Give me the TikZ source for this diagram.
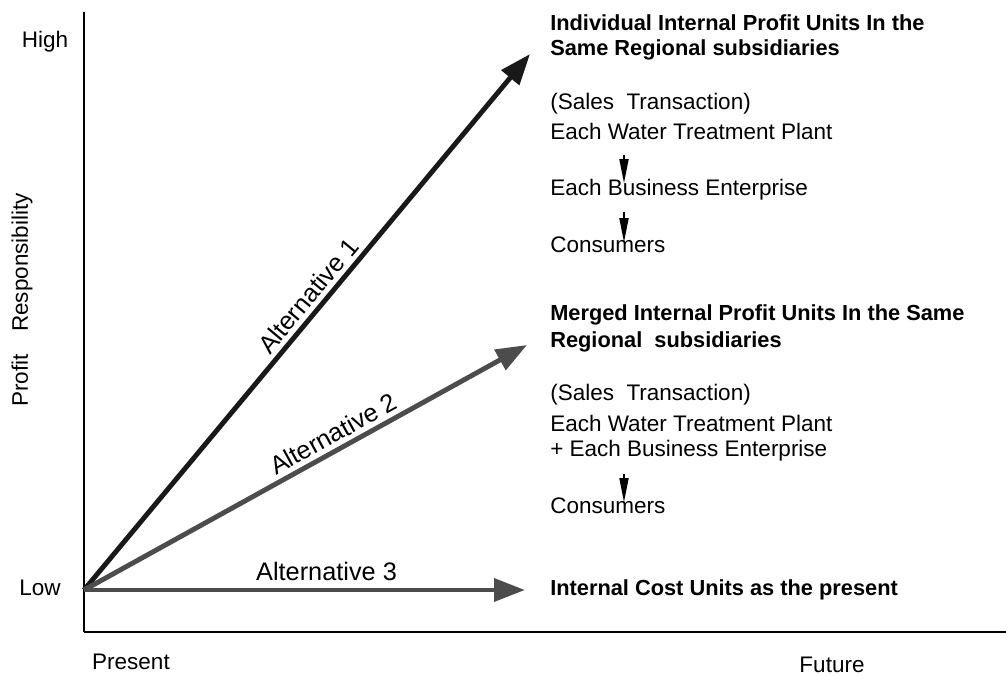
\documentclass[tikz,border=0pt]{standalone}
\usepackage{fontspec}
\setmainfont{Liberation Sans}
\usetikzlibrary{arrows.meta}

\begin{document}
\begin{tikzpicture}[x=0.025cm, y=-0.025cm]

      \tikzset{txt/.style={anchor=west, inner sep=0pt, font=\fontsize{16}{18}\selectfont},
               head/.style={txt, font=\fontsize{15.5}{18}\selectfont\bfseries},
               tag/.style={inner sep=0pt, font=\fontsize{16}{18}\selectfont},
               altlabel/.style={tag, font=\fontsize{18}{20}\selectfont, black},
               alt/.style={-{Triangle[length=22pt, width=16pt]}, line width=3.5pt},
               flow/.style={-{Triangle[length=17pt, width=6.5pt]}, line width=1pt}}
      \useasboundingbox (0,0) rectangle (1006,676);
%% Axes
      	\coordinate (ytop) at (84,12);
      	\coordinate (org) at (84,632);
      	\coordinate (xend) at (1006,632);
      	\draw[line width=1.4pt] (ytop) -- (org);
      	\draw[line width=1pt] (org) -- (xend);
      	\node[tag] (high) at (45,42) {High};
      	\node[tag] (low) at (40,588) {Low};
      	\node[tag] (present) at (131,662) {Present};
      	\node[tag] (future) at (832,665) {Future};
      	\node[tag, rotate=90] (resp) at (22,300) {Profit\quad Responsibility};
%% Alternatives
      	\coordinate (o) at (84,590);
      	\coordinate (t1) at (530,54);
      	\coordinate (t2) at (527,345);
      	\coordinate (t3) at (525,590);
%% Right column
      	\node[head] (a1) at (550,23) {Individual Internal Profit Units In the};
      	\node[head] (a1b) at (550,50) {Same Regional subsidiaries};
      	\node[txt] (a1c) at (550,104) {(Sales\ \ Transaction)};
      	\node[txt] (a1d) at (550,131) {Each Water Treatment Plant};
      	\node[txt] (a1e) at (550,190) {Each Business Enterprise};
      	\node[txt] (a1f) at (550,245) {Consumers};
      	\node[head] (a2) at (550,315) {Merged Internal Profit Units In the Same};
      	\node[head] (a2b) at (550,342) {Regional\ \ subsidiaries};
      	\node[txt] (a2c) at (550,395) {(Sales\ \ Transaction)};
      	\node[txt] (a2d) at (550,423) {Each Water Treatment Plant};
      	\node[txt] (a2e) at (550,451) {+ Each Business Enterprise};
      	\node[txt] (a2f) at (550,506) {Consumers};
      	\node[head] (a3) at (550,590) {Internal Cost Units as the present};
      	\coordinate (f1a) at (624,155);
      	\coordinate (f1b) at (624,183);
      	\coordinate (f2a) at (624,212);
      	\coordinate (f2b) at (624,242);
      	\coordinate (f3a) at (624,474);
      	\coordinate (f3b) at (624,502);
%Edges
		\path [alt, black!90](o) edge node[pos=0.53, sloped, above=3pt, altlabel] {Alternative 1} (t1);
		\path [alt, black!70](o) edge node[pos=0.58, sloped, above=3pt, altlabel] {Alternative 2} (t2);
		\path [alt, black!70](o) edge node[pos=0.55, above=5pt, altlabel] {Alternative 3} (t3);
		\path [flow](f1a) edge (f1b);
		\path [flow](f2a) edge (f2b);
		\path [flow](f3a) edge (f3b);

	\end{tikzpicture}
\end{document}
